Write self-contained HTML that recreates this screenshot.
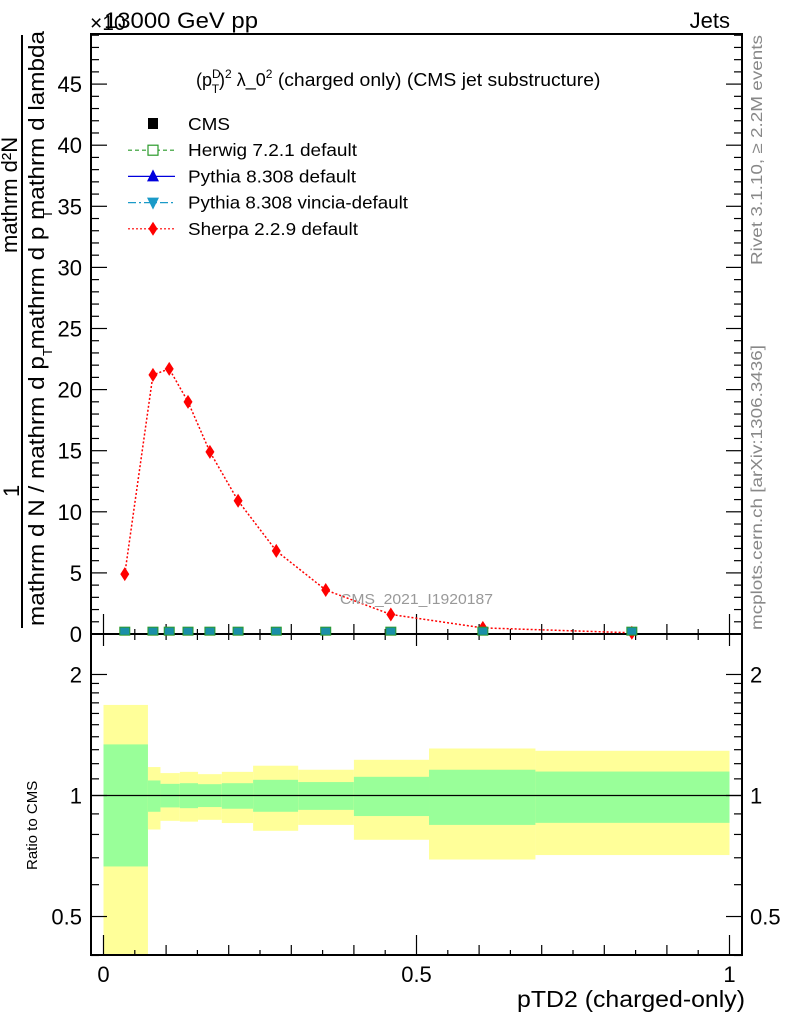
<!DOCTYPE html>
<html><head><meta charset="utf-8"><style>
body{margin:0;background:#fff;}
svg{display:block;font-family:"Liberation Sans",sans-serif;}
</style></head><body>
<svg id="c" width="786" height="1024" viewBox="0 0 786 1024"></svg>
<script>
const binEdges=[0,0.071,0.091,0.122,0.151,0.189,0.239,0.311,0.40,0.52,0.69,1.0];
const sherpaX=[0.034,0.079,0.105,0.135,0.170,0.215,0.276,0.355,0.459,0.606,0.844];
const sherpaY=[4.9,21.2,21.7,19.0,14.9,10.9,6.8,3.6,1.6,0.5,0.1];
const cmsY=[0.15,0.15,0.15,0.15,0.15,0.15,0.15,0.15,0.15,0.15,0.15];
const yellowHi=[1.68,1.177,1.137,1.145,1.13,1.145,1.186,1.159,1.227,1.309,1.292];
const greenHi=[1.34,1.09,1.069,1.073,1.067,1.073,1.094,1.08,1.113,1.159,1.147];
const greenLo=[0.666,0.911,0.934,0.930,0.936,0.927,0.911,0.921,0.889,0.845,0.855];
const yellowLo=[0.3,0.823,0.865,0.861,0.87,0.854,0.817,0.845,0.776,0.693,0.711];
const mainTicks=[0,5,10,15,20,25,30,35,40,45];
const ratioTicks=[0.5,1,2];
const xTicks=[0,0.5,1];

const NS="http://www.w3.org/2000/svg";
const svg=document.getElementById('c');
function el(t,a,p){const e=document.createElementNS(NS,t);for(const k in a)e.setAttribute(k,a[k]);(p||svg).appendChild(e);return e;}
const L=91,R=742,T=34,MB=634,RB=955;
const X=v=>103.5+626*v;
const Y=v=>634-12.22*v;
const YR=v=>795.5-402*Math.log10(v);

const bands=el('g',{});


for(let i=0;i<binEdges.length-1;i++){
  const x0=X(binEdges[i]),x1=X(binEdges[i+1]);
  const yt=Math.max(YR(yellowHi[i]),T),yb=Math.min(YR(yellowLo[i]),RB);
  const y=el('rect',{x:x0,y:yt,width:x1-x0,height:yb-yt,fill:'#ffff99'},bands);
  
  
  const g=el('rect',{x:x0,y:YR(greenHi[i]),width:x1-x0,height:YR(greenLo[i])-YR(greenHi[i]),fill:'#99ff99'},bands);
  
  
}
el('line',{x1:L,x2:R,y1:YR(1),y2:YR(1),stroke:'#000','stroke-width':1.2});

el('rect',{x:L,y:T,width:R-L,height:MB-T,fill:'none',stroke:'#000','stroke-width':2});
el('rect',{x:L,y:MB,width:R-L,height:RB-MB,fill:'none',stroke:'#000','stroke-width':2});

for(let v=0;v<=49;v++){
  const len=v%5==0?16:8,y=Y(v);
  el('line',{x1:L,x2:L+len,y1:y,y2:y,stroke:'#000','stroke-width':1.2});
  el('line',{x1:R,x2:R-len,y1:y,y2:y,stroke:'#000','stroke-width':1.2});
}
mainTicks.forEach(v=>{const t=el('text',{x:82,y:Y(v)+8,'text-anchor':'end','font-size':22});t.textContent=v;

});
[0.4,0.5,0.6,0.7,0.8,0.9,1,1.1,1.2,1.3,1.4,1.5,1.6,1.7,1.8,1.9,2].forEach(v=>{
  const len=(v==0.5||v==1||v==2)?16:8,y=YR(v);
  el('line',{x1:L,x2:L+len,y1:y,y2:y,stroke:'#000','stroke-width':1.2});
  el('line',{x1:R,x2:R-len,y1:y,y2:y,stroke:'#000','stroke-width':1.2});
});
ratioTicks.forEach(v=>{
  const a=el('text',{x:82,y:YR(v)+8,'text-anchor':'end','font-size':22});a.textContent=v;
  
  
  const b=el('text',{x:750,y:YR(v)+8,'font-size':22});b.textContent=v;
  
  
});
for(let k=0;k<=20;k++){
  const v=k/20,x=X(v);
  const len=k%10==0?20:(k%2==0?10:5);
  el('line',{x1:x,x2:x,y1:MB,y2:MB-len,stroke:'#000','stroke-width':1.2});
  el('line',{x1:x,x2:x,y1:RB,y2:RB-len,stroke:'#000','stroke-width':1.2});
  el('line',{x1:x,x2:x,y1:MB,y2:MB+(k%10==0?12:6),stroke:'#000','stroke-width':1.2});
}
xTicks.forEach(v=>{const t=el('text',{x:X(v),y:982,'text-anchor':'middle','font-size':22});t.textContent=v;

});

const pts=sherpaX.map((x,i)=>X(x)+','+Y(sherpaY[i])).join(' ');
const ln=el('polyline',{points:pts,fill:'none',stroke:'#ff0000','stroke-width':1.5,'stroke-dasharray':'2,2'});


sherpaX.forEach((x,i)=>{
  const cx=X(x),cy=Y(sherpaY[i]);
  const m=el('polygon',{points:`${cx},${cy-7} ${cx+4.5},${cy} ${cx},${cy+7} ${cx-4.5},${cy}`,fill:'#ff0000'});
  
  
});
sherpaX.forEach((x,i)=>{
  const cx=X(x),cy=Y(cmsY[i]);
  const s=el('rect',{x:cx-5,y:cy-5,width:10,height:8,fill:'#1a8fa8',stroke:'#2a9a2a','stroke-width':1});
  
  
});

function txt(s,a,name){const t=el('text',a);t.textContent=s;return t;}
txt('×10',{x:90,y:30,'font-size':21},'y-multiplier');
txt('13000 GeV pp',{x:104,y:28,'font-size':22,textLength:154,lengthAdjust:'spacingAndGlyphs'},'title-energy');
txt('Jets',{x:730,y:28,'font-size':22,'text-anchor':'end'},'title-process');
const st=el('text',{x:196,y:86,'font-size':18});

st.innerHTML='(p<tspan font-size="12" dy="-8">D</tspan><tspan font-size="12" dx="-9" dy="15">T</tspan><tspan dy="-7">)</tspan><tspan font-size="12" dy="-8">2</tspan><tspan dy="8"> λ_0</tspan><tspan font-size="12" dy="-8">2</tspan><tspan dy="8" textLength="328" lengthAdjust="spacingAndGlyphs"> (charged only) (CMS jet substructure)</tspan>';
txt('CMS_2021_I1920187',{x:340,y:604,'font-size':15,fill:'#999',textLength:153,lengthAdjust:'spacingAndGlyphs'},'analysis-id');
txt('pTD2 (charged-only)',{x:517,y:1007,'font-size':23,textLength:228,lengthAdjust:'spacingAndGlyphs'},'x-axis-title');
txt('Ratio to CMS',{x:0,y:0,'font-size':15,transform:'translate(37,870) rotate(-90)'},'ratio-axis-title');
txt('Rivet 3.1.10, ≥ 2.2M events',{x:0,y:0,'font-size':16,fill:'#888',textLength:230,lengthAdjust:'spacingAndGlyphs',transform:'translate(762,265) rotate(-90)'},'rivet-label');
txt('mcplots.cern.ch [arXiv:1306.3436]',{x:0,y:0,'font-size':16,fill:'#888',textLength:285,lengthAdjust:'spacingAndGlyphs',transform:'translate(762,630) rotate(-90)'},'mcplots-label');
txt('1',{x:0,y:0,'font-size':22,transform:'translate(19,497) rotate(-90)'},'y-title-one');
txt('mathrm d²N',{x:0,y:0,'font-size':22,transform:'translate(17,253) rotate(-90)'},'y-title-numerator');
el('line',{x1:22,x2:22,y1:35,y2:628,stroke:'#000','stroke-width':2});
txt('mathrm d N / mathrm d p  mathrm d p  mathrm d lambda',{x:0,y:0,'font-size':22,textLength:595,lengthAdjust:'spacingAndGlyphs',transform:'translate(44,626) rotate(-90)'},'y-title-denominator');
txt('T',{x:0,y:0,'font-size':13,transform:'translate(52,356) rotate(-90)'},'sub-t1');
txt('T',{x:0,y:0,'font-size':13,transform:'translate(52,218) rotate(-90)'},'sub-t2');

const leg=[['CMS','cms'],['Herwig 7.2.1 default','herwig'],['Pythia 8.308 default','pythia'],['Pythia 8.308 vincia-default','vincia'],['Sherpa 2.2.9 default','sherpa']];
const legW=[42,169,168,220,170];
leg.forEach((e,i)=>{
  const y=124+i*26.2;
  const g=el('g',{});
  
  
  const cx=153;
  if(e[1]=='cms') el('rect',{x:cx-5,y:y-6,width:10,height:11,fill:'#000'},g);
  if(e[1]=='herwig'){el('line',{x1:128,x2:175,y1:y,y2:y,stroke:'#2a9a2a','stroke-dasharray':'4,3','stroke-width':1.2},g);el('rect',{x:cx-5,y:y-5,width:10,height:10,fill:'#fff',stroke:'#2a9a2a','stroke-width':1.2},g);}
  if(e[1]=='pythia'){el('line',{x1:128,x2:175,y1:y,y2:y,stroke:'#0000dd','stroke-width':1.2},g);el('polygon',{points:`${cx},${y-7} ${cx+6},${y+5} ${cx-6},${y+5}`,fill:'#0000dd'},g);}
  if(e[1]=='vincia'){el('line',{x1:128,x2:175,y1:y,y2:y,stroke:'#1a9ac8','stroke-dasharray':'8,3,2,3','stroke-width':1.2},g);el('polygon',{points:`${cx-6},${y-5} ${cx+6},${y-5} ${cx},${y+7}`,fill:'#1a9ac8'},g);}
  if(e[1]=='sherpa'){el('line',{x1:128,x2:175,y1:y,y2:y,stroke:'#ff0000','stroke-dasharray':'2,2','stroke-width':1.2},g);el('polygon',{points:`${cx},${y-7} ${cx+4.5},${y} ${cx},${y+7} ${cx-4.5},${y}`,fill:'#ff0000'},g);}
  const t=el('text',{x:188,y:y+6,'font-size':17.5,textLength:legW[i],lengthAdjust:'spacingAndGlyphs'},g);t.textContent=e[0];
});
</script>
</body></html>
